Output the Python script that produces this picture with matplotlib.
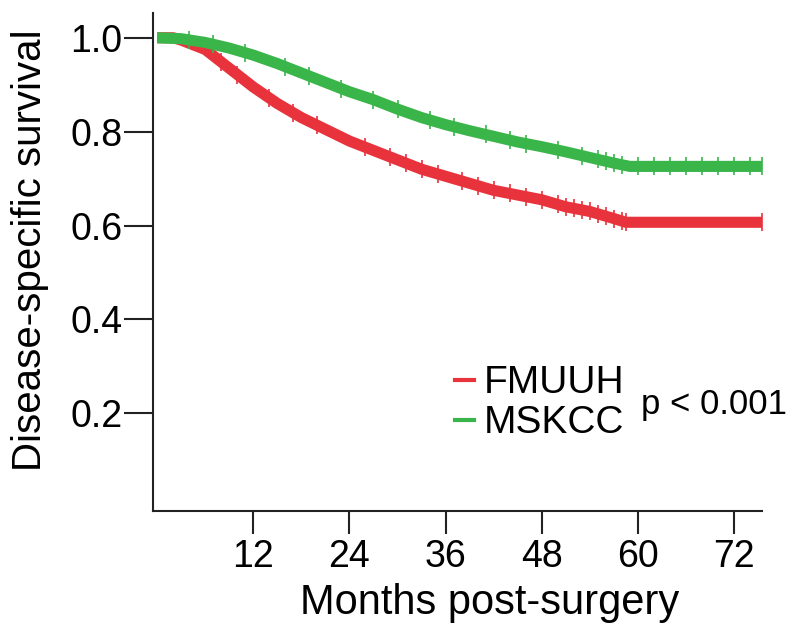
import matplotlib.pyplot as plt
import numpy as np
from matplotlib.lines import Line2D

plt.rcParams['font.family'] = ['Liberation Sans', 'DejaVu Sans']

# Kaplan-Meier estimates (months, survival)
fmuuh_t = [0, 2, 3, 6, 9, 12, 15, 18, 21, 24, 27, 30, 33, 36, 39, 42, 45, 48, 51, 54, 57, 58.5, 75.5]
fmuuh_s = [1.0, 1.0, 0.995, 0.975, 0.935, 0.895, 0.86, 0.83, 0.805, 0.78, 0.76, 0.74, 0.72,
           0.705, 0.69, 0.675, 0.665, 0.655, 0.64, 0.63, 0.615, 0.607, 0.607]
mskcc_t = [0, 3, 6, 9, 12, 15, 18, 21, 24, 27, 30, 33, 36, 39, 42, 45, 48, 51, 54, 57, 59, 75.5]
mskcc_s = [1.0, 0.998, 0.99, 0.978, 0.963, 0.945, 0.925, 0.905, 0.885, 0.868, 0.848, 0.83,
           0.815, 0.802, 0.79, 0.778, 0.768, 0.757, 0.745, 0.733, 0.726, 0.726]

# censoring marks (months)
fmuuh_cens = [8, 10, 14, 17, 20, 26, 29, 31, 33, 35, 38, 40, 42, 44, 46, 48, 50, 51,
              52, 53, 54, 55, 56, 57, 58, 58.5, 75.5]
mskcc_cens = [4, 7, 11, 16, 19, 23, 27, 30, 34, 37, 41, 44, 46, 50, 53, 55, 56, 57, 58,
              60, 62, 64, 66, 68, 70, 72, 74, 75.5]

red = '#e8323c'
green = '#3ab54a'

fig = plt.figure(figsize=(8, 6.44), dpi=100)
ax = fig.add_axes([0.191, 0.2065, 0.7615, 0.7735])

for t, s, c, cens in [(fmuuh_t, fmuuh_s, red, fmuuh_cens),
                      (mskcc_t, mskcc_s, green, mskcc_cens)]:
    ax.plot(t, s, color=c, lw=8, solid_capstyle='butt')
    ax.plot(cens, np.interp(cens, t, s), ls='none', marker='|', ms=12.5, mew=1.2, color=c)

ax.set_xlim(-0.55, 75.5)
ax.set_ylim(-0.008, 1.053)
ax.set_xticks([12, 24, 36, 48, 60, 72])
ax.set_yticks([0.2, 0.4, 0.6, 0.8, 1.0])
ax.set_yticklabels(['0.2', '0.4', '0.6', '0.8', '1.0'])
ax.tick_params(width=1.5, labelsize=27, color='#222222')
ax.tick_params(axis='x', length=16.5, pad=4)
ax.tick_params(axis='y', length=21, pad=1)
for side in ['top', 'right']:
    ax.spines[side].set_visible(False)
for side in ['left', 'bottom']:
    ax.spines[side].set_linewidth(1.5)
    ax.spines[side].set_color('#222222')

ax.set_xlabel('Months post-surgery', fontsize=30)
ax.set_ylabel('Disease-specific survival', fontsize=29)
ax.xaxis.set_label_coords(0.553, -0.145)
ax.yaxis.set_label_coords(-0.171, 0.524)

handles = [Line2D([], [], color=red, lw=3), Line2D([], [], color=green, lw=3)]
ax.legend(handles, ['FMUUH', 'MSKCC'], loc='center left', bbox_to_anchor=(0.496, 0.216),
          frameon=False, fontsize=28, handlelength=0.5, handletextpad=0.25,
          labelspacing=0.1, borderpad=0, borderaxespad=0)
ax.text(0.802, 0.213, 'p < 0.001', transform=ax.transAxes, fontsize=25, va='center')

fig.savefig('out.png')
